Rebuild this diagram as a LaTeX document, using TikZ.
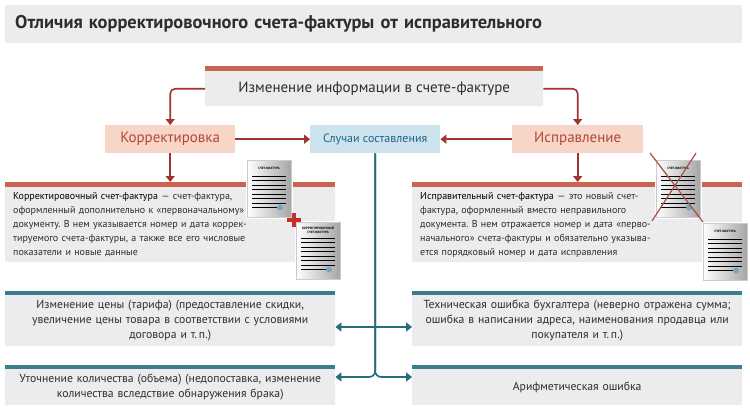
\documentclass[tikz,border=0pt]{standalone}
\usepackage{fontspec}
\setmainfont{PT Sans}
\definecolor{barred}{RGB}{200, 100, 80}
\definecolor{arrowred}{RGB}{160, 50, 48}
\definecolor{plusred}{RGB}{196, 48, 44}
\definecolor{crossred}{RGB}{170, 80, 70}
\definecolor{peach}{RGB}{247, 214, 200}
\definecolor{korrtext}{RGB}{178, 72, 56}
\definecolor{caseblue}{RGB}{205, 228, 238}
\definecolor{casetext}{RGB}{28, 98, 140}
\definecolor{tealline}{RGB}{38, 108, 124}
\definecolor{tealbar}{RGB}{58, 125, 140}
\definecolor{boxgray}{RGB}{236, 236, 239}
\definecolor{titlegray}{RGB}{236, 236, 236}
\definecolor{textgray}{RGB}{45, 45, 45}
\definecolor{dotblue}{RGB}{120, 165, 190}
\usetikzlibrary{arrows.meta, positioning}
\frenchspacing

\begin{document}
\begin{tikzpicture}[x=1pt, y=-1pt,
  graybox/.style={fill=boxgray, anchor=north west, minimum width=330pt, inner xsep=8pt, inner ysep=2pt, text=textgray},
  tagbox/.style={anchor=north west, minimum height=28pt, inner sep=0pt},
  redarrow/.style={draw=arrowred, line width=1.6pt, -{Triangle[width=9pt, length=6pt]}},
  tealarrow/.style={draw=tealline, line width=1.6pt, -{Triangle[width=9pt, length=6pt]}},
  docpic/.pic={
    \fill[white] (-1.5,-1.5) rectangle (45.5,58.5);
    \shade[left color=white, right color=black!35, draw=black!20] (0,0) rectangle (44,57);
    \node[font=\fontsize{3.2}{3.6}\selectfont\bfseries, align=center, inner sep=0pt] at (22,8) {\tikzpictext};
    \foreach \ly in {16,20.5,...,43} \draw[line width=0.9pt] (5,\ly) -- (39,\ly);
    \draw[line width=0.9pt] (5,47.5) -- (31,47.5);
    \fill[dotblue] (33,47.5) circle (3);
  }]
  \useasboundingbox (0,0) rectangle (750,410);

  % Title
  \node[fill=titlegray, anchor=north west, minimum width=737pt, minimum height=38pt, inner xsep=10pt, text width=717pt, align=left, font=\fontsize{18.4}{22}\selectfont\bfseries, text=textgray] (title) at (5,5) {Отличия корректировочного счета-фактуры от исправительного};

  % Top box and the two ways
  \node[fill=boxgray, anchor=north west, minimum width=338pt, minimum height=35pt, font=\fontsize{15}{18}\selectfont, text=textgray] (change) at (205,71) {Изменение информации в счете-фактуре};
  \node[tagbox, fill=peach, minimum width=130pt, font=\fontsize{15}{18}\selectfont, text=korrtext] (korr) at (105,125) {Корректировка};
  \node[tagbox, fill=caseblue, minimum width=130pt, font=\fontsize{12}{14}\selectfont, text=casetext] (cases) at (310,125) {Случаи составления};
  \node[tagbox, fill=peach, minimum width=131pt, font=\fontsize{15}{18}\selectfont, text=korrtext] (ispr) at (512,125) {Исправление};

  % Definitions
  \node[graybox, minimum height=75pt, text width=314pt, align=left, font=\fontsize{10}{14}\selectfont] (korrdesc) at (5,187) {
    \textcolor{black}{Корректировочный счет-фактура} — счет-фактура,\\
    оформленный дополнительно к «первоначальному»\\
    документу. В нем указывается номер и дата коррек-\\
    тируемого счета-фактуры, а также все его числовые\\
    показатели и новые данные};
  \node[graybox, minimum height=75pt, text width=314pt, align=left, font=\fontsize{10}{14}\selectfont] (isprdesc) at (412,187) {
    \textcolor{black}{Исправительный счет-фактура} — это новый счет-\\
    фактура, оформленный вместо неправильного\\
    документа. В нем отражается номер и дата «перво-\\
    начального» счета-фактуры и обязательно указыва-\\
    ется порядковый номер и дата исправления};

  % Cases
  \node[graybox, minimum height=51pt, inner xsep=3pt, text width=324pt, align=center, font=\fontsize{11.7}{15}\selectfont] (price) at (5,295) {Изменение цены (тарифа) (предоставление скидки,\\увеличение цены товара в соответствии с условиями\\договора и т.\,п.)};
  \node[graybox, minimum height=36pt, inner xsep=3pt, text width=324pt, align=center, font=\fontsize{11.7}{15}\selectfont] (amount) at (5,369) {Уточнение количества (объема) (недопоставка, изменение\\количества вследствие обнаружения брака)};
  \node[graybox, minimum height=51pt, inner xsep=3pt, text width=324pt, align=center, font=\fontsize{11.7}{15}\selectfont] (techerr) at (412,295) {Техническая ошибка бухгалтера (неверно отражена сумма;\\ошибка в написании адреса, наименования продавца или\\покупателя и т.\,п.)};
  \node[graybox, minimum height=36pt, inner xsep=3pt, text width=324pt, align=center, font=\fontsize{11.7}{15}\selectfont] (matherr) at (412,369) {Арифметическая ошибка};

  % Stripes
  \foreach \b in {change, korrdesc, isprdesc}
    \fill[barred] (\b.north west) rectangle ([yshift=5pt]\b.north east);
  \foreach \b in {price, amount, techerr, matherr}
    \fill[tealbar] (\b.north west) rectangle ([yshift=4pt]\b.north east);

  % Red arrows
  \coordinate (kd) at ([yshift=5pt]korrdesc.north);
  \coordinate (id) at ([yshift=5pt]isprdesc.north);
  \draw[redarrow, rounded corners=5pt] (change.west) -| (korr.north);
  \draw[redarrow, rounded corners=5pt] (change.east) -| (ispr.north);
  \draw[redarrow] (korr.east) -- (cases.west);
  \draw[redarrow] (ispr.west) -- (cases.east);
  \draw[redarrow] (korr.south) -- (korr.south |- kd);
  \draw[redarrow] (ispr.south) -- (ispr.south |- id);

  % Teal tree
  \coordinate (jp) at (cases.south |- 0,327);
  \coordinate (jq) at (cases.south |- 0,377);
  \draw[tealarrow, rounded corners=6pt] (cases.south) |- (amount.east |- jq);
  \draw[tealarrow, rounded corners=6pt] (cases.south) |- (matherr.west |- jq);
  \draw[tealarrow] (jp) -- (price.east |- jp);
  \draw[tealarrow] (jp) -- (techerr.west |- jp);

  % Documents
  \pic[pic text=СЧЕТ-ФАКТУРА] (docold) at (247,160) {docpic};
  \pic[pic text={КОРРЕКТИРОВОЧНЫЙ\\СЧЕТ-ФАКТУРА}] (docnew) at (296,222) {docpic};
  \fill[plusred] (287,218) rectangle (301,222);
  \fill[plusred] (292,213) rectangle (296,227);
  \pic[pic text=СЧЕТ-ФАКТУРА] (docbad) at (656,160) {docpic};
  \pic[pic text=СЧЕТ-ФАКТУРА] (docfix) at (703,223) {docpic};
  \draw[crossred, line width=1.2pt] (650,153) -- (703,222);
  \draw[crossred, line width=1.2pt] (696,153) -- (652,221);
\end{tikzpicture}
\end{document}
